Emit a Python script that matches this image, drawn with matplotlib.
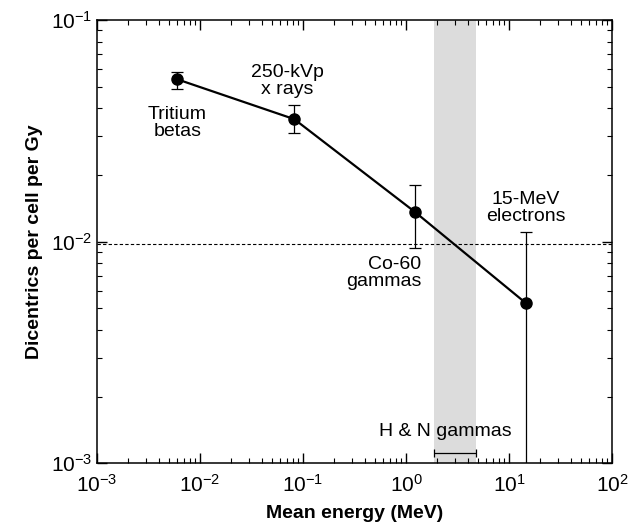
import matplotlib.pyplot as plt
from matplotlib.ticker import LogLocator, LogFormatterMathtext, NullFormatter

plt.rcParams['font.family'] = ['Liberation Sans', 'DejaVu Sans']
plt.rcParams['mathtext.fontset'] = 'custom'
plt.rcParams['mathtext.rm'] = 'Liberation Sans'
plt.rcParams['mathtext.it'] = 'Liberation Sans'

# Data
labels = ["Tritium\nbetas", "250-kVp\nx rays", "Co-60\ngammas", "15-MeV\nelectrons"]
energia = [0.006, 0.082, 1.22, 14.6]
dicentricos = [0.054, 0.0357, 0.0136, 0.00527]
erro_baixo = [0.049, 0.0309, 0.0094, 0.0009]
erro_alto = [0.0585, 0.0413, 0.018, 0.011]
faixa_hn = [1.87, 4.8]
linha_ref = 0.0098

fig = plt.figure(figsize=(6.35, 5.27), dpi=100)
ax = fig.add_axes([0.153, 0.121, 0.811, 0.841])

ax.axvspan(faixa_hn[0], faixa_hn[1], color='#dcdcdc', lw=0, zorder=0)
ax.axhline(linha_ref, color='black', ls=(0, (3, 2)), lw=0.8, zorder=1)

yerr = [[d - lo for d, lo in zip(dicentricos, erro_baixo)],
        [hi - d for d, hi in zip(dicentricos, erro_alto)]]
ax.errorbar(energia, dicentricos, yerr=yerr, fmt='-o', color='black',
            ms=8, lw=1.6, elinewidth=0.9, capsize=4, capthick=0.9, zorder=3)

# H & N gammas bracket
meio = 3.0
ax.errorbar([meio], [0.00111], xerr=[[meio - faixa_hn[0]], [faixa_hn[1] - meio]],
            fmt='none', ecolor='black', elinewidth=0.9, capsize=3, capthick=0.9)
ax.text(2.4, 0.00127, "H & N gammas", ha='center', va='bottom', fontsize=14)

ax.text(energia[0], 0.041, labels[0], ha='center', va='top', fontsize=14, linespacing=1.0)
ax.text(energia[1] * 0.85, 0.0445, labels[1], ha='center', va='bottom', fontsize=14, linespacing=1.0)
ax.text(1.4, 0.0086, labels[2], ha='right', va='top', fontsize=14, linespacing=1.0)
ax.text(energia[3], 0.0119, labels[3], ha='center', va='bottom', fontsize=14, linespacing=1.0)

ax.set_xscale('log')
ax.set_yscale('log')
ax.set_xlim(1e-3, 1e2)
ax.set_ylim(1e-3, 1e-1)

ax.xaxis.set_major_locator(LogLocator(base=10, numticks=10))
ax.yaxis.set_major_locator(LogLocator(base=10, numticks=10))
ax.xaxis.set_major_formatter(LogFormatterMathtext())
ax.yaxis.set_major_formatter(LogFormatterMathtext())
ax.xaxis.set_minor_locator(LogLocator(base=10, subs=range(2, 10), numticks=20))
ax.yaxis.set_minor_locator(LogLocator(base=10, subs=range(2, 10), numticks=20))
ax.xaxis.set_minor_formatter(NullFormatter())
ax.yaxis.set_minor_formatter(NullFormatter())

ax.tick_params(which='both', direction='in', top=True, right=True, labelsize=15)
ax.tick_params(which='major', length=7, width=1)
ax.tick_params(which='minor', length=3.5, width=0.8)
ax.tick_params(axis='x', pad=8)

for s in ax.spines.values():
    s.set_linewidth(1.1)

ax.set_xlabel("Mean energy (MeV)", fontsize=14, fontweight='bold', labelpad=6)
ax.set_ylabel("Dicentrics per cell per Gy", fontsize=14, fontweight='bold', labelpad=6)

fig.savefig("out.png", dpi=100)
